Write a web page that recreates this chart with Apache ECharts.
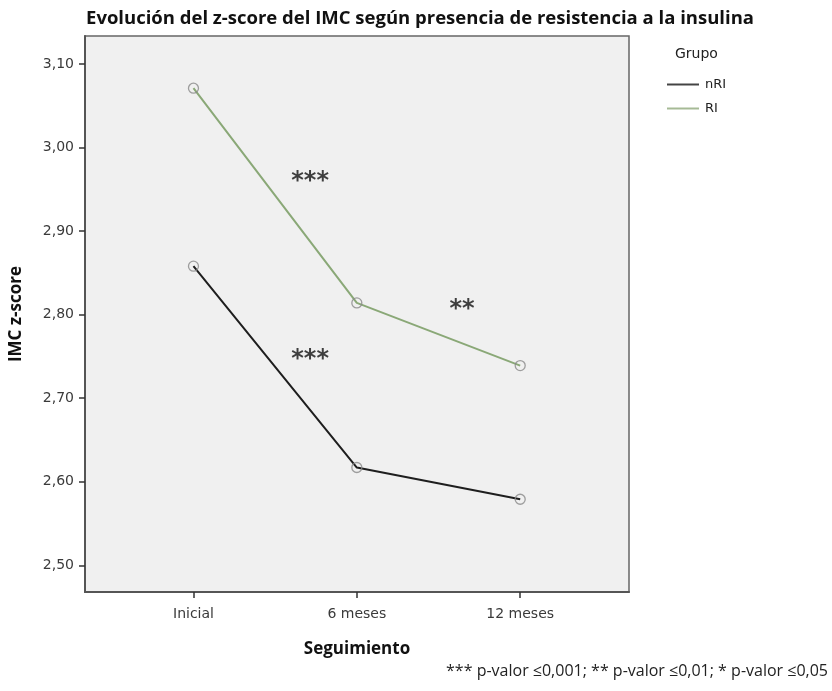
<!DOCTYPE html>
<html>
<head>
<meta charset="utf-8">
<script src="https://cdn.jsdelivr.net/npm/echarts@6/dist/echarts.min.js"></script>
<style>
  html, body { margin: 0; padding: 0; background: #ffffff; }
  #chart { width: 832px; height: 691px; }
</style>
</head>
<body>
<div id="chart"></div>
<script>
// Follow-up time points
const categories = ['Inicial', '6 meses', '12 meses'];
// Mean BMI z-score per group
const nRI = [2.858, 2.617, 2.579];
const RI = [3.071, 2.814, 2.739];
// Y-axis tick values
const yTicks = [2.5, 2.6, 2.7, 2.8, 2.9, 3.0, 3.1];
// Significance marks between time points: [x, y, text]
const sigMarks = [
  [0.714, 2.965, '***'],
  [0.714, 2.752, '***'],
  [1.644, 2.812, '**']
];
const footnote = '*** p-valor \u22640,001; ** p-valor \u22640,01; * p-valor \u22640,05';

const chart = echarts.init(document.getElementById('chart'), null, { renderer: 'canvas' });

const tickFont = { fontFamily: 'DejaVu Sans', fontSize: 14, color: '#3a3a3a' };
const circle = 'path://M50,0A50,50,0,1,1,49.99,0Z';

const option = {
  backgroundColor: '#ffffff',
  animation: false,
  title: {
    text: 'Evolución del z-score del IMC según presencia de resistencia a la insulina',
    left: 415, top: 4, textAlign: 'center',
    textStyle: { fontFamily: 'Open Sans', fontWeight: 'bold', fontSize: 18.5, color: '#111111' }
  },
  legend: {
    orient: 'vertical',
    left: 667, top: 78, padding: 0,
    itemWidth: 32, itemHeight: 2, itemGap: 11,
    icon: 'rect',
    data: ['nRI', 'RI'],
    textStyle: { fontFamily: 'DejaVu Sans', fontSize: 13, color: '#222222', padding: [0, 0, 0, 1] }
  },
  grid: {
    left: 84, top: 36, width: 545, height: 556,
    show: true, backgroundColor: '#f0f0f0', borderColor: '#666666', borderWidth: 1.5
  },
  xAxis: {
    type: 'value', min: -0.664, max: 2.666,
    name: 'Seguimiento', nameLocation: 'middle', nameGap: 49,
    nameTextStyle: { fontFamily: 'Open Sans', fontWeight: 'bold', fontSize: 17, color: '#111111' },
    splitLine: { show: false },
    axisLine: { show: true, onZero: false, lineStyle: { color: '#555555', width: 2 } },
    axisTick: { show: true, length: 6, customValues: [0, 1, 2], lineStyle: { color: '#333333', width: 1.5 } },
    axisLabel: Object.assign({ customValues: [0, 1, 2], margin: 15,
      formatter: v => categories[Math.round(v)] }, tickFont)
  },
  yAxis: {
    type: 'value', min: 2.468, max: 3.1335,
    name: 'IMC z-score', nameLocation: 'middle', nameGap: 60, nameRotate: 90,
    nameTextStyle: { fontFamily: 'Open Sans', fontWeight: 'bold', fontSize: 17, color: '#111111' },
    splitLine: { show: false },
    axisLine: { show: true, onZero: false, lineStyle: { color: '#555555', width: 2 } },
    axisTick: { show: true, length: 6, customValues: yTicks, lineStyle: { color: '#333333', width: 1.5 } },
    axisLabel: Object.assign({ customValues: yTicks, margin: 11,
      formatter: v => v.toFixed(2).replace('.', ',') }, tickFont)
  },
  series: [
    {
      name: 'nRI', type: 'line',
      data: nRI.map((v, i) => [i, v]),
      lineStyle: { color: '#1e1e1e', width: 2 },
      itemStyle: { color: '#444444' },
      symbol: 'none', z: 3
    },
    {
      name: 'RI', type: 'line',
      data: RI.map((v, i) => [i, v]),
      lineStyle: { color: '#8aa877', width: 2 },
      itemStyle: { color: '#a6ba96' },
      symbol: 'none', z: 3
    },
    {
      // hollow markers at each mean
      type: 'scatter',
      data: nRI.map((v, i) => [i, v]).concat(RI.map((v, i) => [i, v])),
      symbol: circle, symbolSize: 10,
      itemStyle: { color: 'rgba(0,0,0,0)', borderColor: '#888888', borderWidth: 1.3 },
      z: 4, silent: true
    },
    {
      type: 'scatter',
      data: sigMarks.map(m => ({ value: [m[0], m[1]], label: { formatter: m[2] } })),
      symbolSize: 0,
      label: {
        show: true, position: 'inside', offset: [0, 5],
        fontFamily: 'DejaVu Sans', fontWeight: 'bold', fontSize: 24, color: '#111111'
      },
      silent: true, z: 5
    }
  ],
  graphic: [
    {
      type: 'text', left: 675, top: 47,
      style: { text: 'Grupo', fontFamily: 'DejaVu Sans', fontSize: 14, fill: '#222222' }
    },
    {
      type: 'text', right: 4, top: 663,
      style: { text: footnote, fontFamily: 'Open Sans', fontSize: 16, fill: '#222222' }
    }
  ]
};

chart.setOption(option);
</script>
</body>
</html>
